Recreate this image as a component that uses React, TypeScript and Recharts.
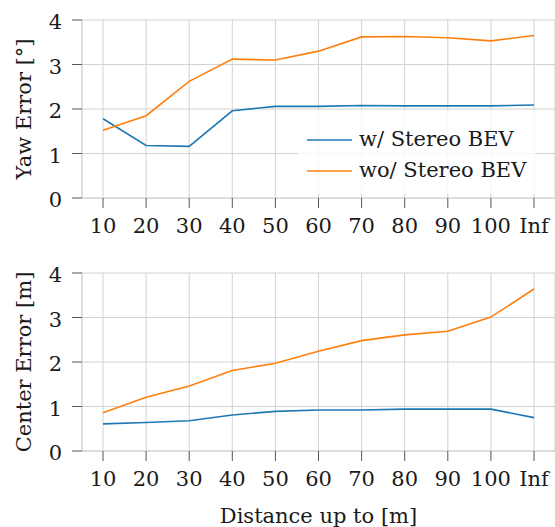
import { LineChart, Line, XAxis, YAxis, CartesianGrid, Legend, Label } from "recharts";

// distance buckets
const categories = ["10", "20", "30", "40", "50", "60", "70", "80", "90", "100", "Inf"];

const yawWith = [1.78, 1.18, 1.16, 1.96, 2.06, 2.06, 2.08, 2.07, 2.07, 2.07, 2.09];
const yawWithout = [1.52, 1.85, 2.62, 3.12, 3.1, 3.3, 3.62, 3.63, 3.6, 3.53, 3.65];
const centerWith = [0.61, 0.64, 0.68, 0.81, 0.89, 0.92, 0.92, 0.94, 0.94, 0.94, 0.75];
const centerWithout = [0.86, 1.21, 1.46, 1.81, 1.97, 2.24, 2.48, 2.61, 2.69, 3.01, 3.64];

const yTicks = [0, 1, 2, 3, 4];
const seriesNames = ["w/ Stereo BEV", "wo/ Stereo BEV"];

const BLUE = "#1f77b4";
const ORANGE = "#ff7f0e";
const FONT = "'DejaVu Serif', serif";
const TEXT = "#1a1a1a";
const GRID = "#d2d2d2";

const tickStyle = { fill: TEXT, fontSize: 21, fontFamily: FONT };

const LegendBox = () => {
  const rows = [
    { label: seriesNames[0], color: BLUE },
    { label: seriesNames[1], color: ORANGE },
  ];
  return (
    <div
      style={{
        width: 237,
        height: 84,
        boxSizing: "border-box",
        padding: "14px 0 0 9px",
        background: "rgba(255,255,255,0.82)",
        fontFamily: FONT,
        fontSize: 21,
        color: TEXT,
      }}
    >
      {rows.map((r) => (
        <div key={r.label} style={{ display: "flex", alignItems: "center", height: 31 }}>
          <svg width={45} height={4} style={{ display: "block" }}>
            <line x1={0} y1={2} x2={45} y2={2} stroke={r.color} strokeWidth={1.7} />
          </svg>
          <span style={{ marginLeft: 7, lineHeight: "31px", whiteSpace: "nowrap" }}>{r.label}</span>
        </div>
      ))}
    </div>
  );
};

type PanelProps = {
  withVals: number[];
  withoutVals: number[];
  yLabel: string;
  xLabel?: string;
  legend?: boolean;
  height: number;
  xAxisHeight: number;
};

function Panel({ withVals, withoutVals, yLabel, xLabel, legend, height, xAxisHeight }: PanelProps) {
  const data = categories.map((c, i) => ({ cat: c, w: withVals[i], wo: withoutVals[i] }));
  return (
    <LineChart width={555} height={height} data={data} margin={{ top: 20, right: 0, left: 0, bottom: 0 }}>
      <CartesianGrid stroke={GRID} strokeWidth={1} />
      <XAxis
        dataKey="cat"
        interval={0}
        height={xAxisHeight}
        padding={{ left: 21, right: 21 }}
        tick={tickStyle}
        tickSize={10}
        tickMargin={10}
        tickLine={{ stroke: "#555" }}
        axisLine={{ stroke: GRID }}
      >
        {xLabel && (
          <Label
            value={xLabel}
            position="insideBottom"
            offset={4}
            style={{ fontFamily: FONT, fontSize: 21, fill: TEXT }}
          />
        )}
      </XAxis>
      <YAxis
        type="number"
        domain={[0, 4]}
        ticks={yTicks}
        interval={0}
        width={82}
        tick={{ ...tickStyle, dy: 2 }}
        tickSize={10}
        tickMargin={10}
        tickLine={{ stroke: "#555" }}
        axisLine={{ stroke: GRID }}
      >
        <Label
          value={yLabel}
          angle={-90}
          position="insideLeft"
          offset={24}
          style={{ textAnchor: "middle", fontFamily: FONT, fontSize: 21, fill: TEXT }}
        />
      </YAxis>
      {legend && (
        <Legend
          layout="vertical"
          align="center"
          verticalAlign="middle"
          content={() => <LegendBox />}
          wrapperStyle={{ left: 298, top: 110, width: 237 }}
        />
      )}
      <Line
        dataKey="w"
        name={seriesNames[0]}
        stroke={BLUE}
        strokeWidth={1.6}
        dot={false}
        isAnimationActive={false}
      />
      <Line
        dataKey="wo"
        name={seriesNames[1]}
        stroke={ORANGE}
        strokeWidth={1.6}
        dot={false}
        isAnimationActive={false}
      />
    </LineChart>
  );
}

export default function App() {
  return (
    <div style={{ position: "absolute", left: 0, top: 0, width: 555, height: 527, background: "#fff", fontFamily: FONT }}>
      <div style={{ position: "absolute", left: 0, top: 0 }}>
        <Panel withVals={yawWith} withoutVals={yawWithout} yLabel="Yaw Error [°]" legend height={240} xAxisHeight={42} />
      </div>
      <div style={{ position: "absolute", left: 0, top: 253 }}>
        <Panel
          withVals={centerWith}
          withoutVals={centerWithout}
          yLabel="Center Error [m]"
          xLabel="Distance up to [m]"
          height={274}
          xAxisHeight={76}
        />
      </div>
    </div>
  );
}
